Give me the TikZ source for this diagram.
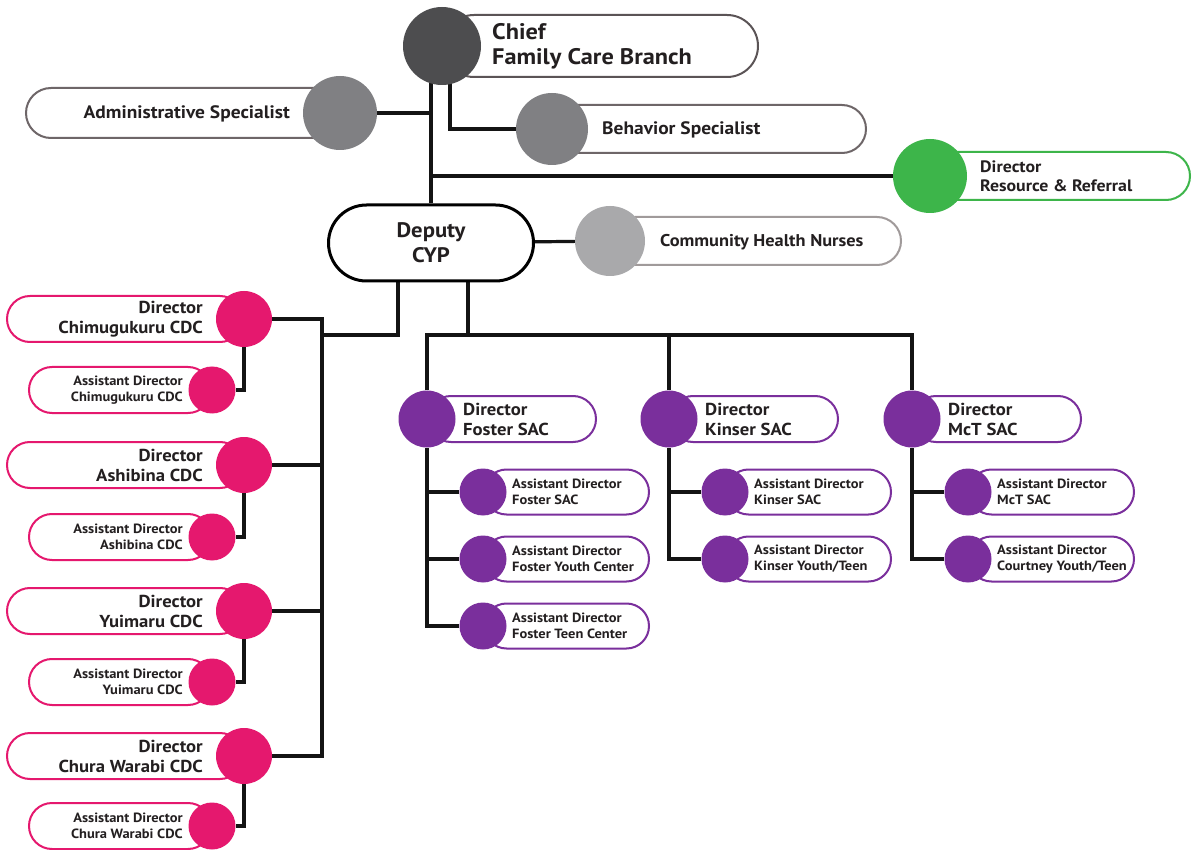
\documentclass[tikz,border=0pt]{standalone}
\usepackage{fontspec}
\setmainfont{PT Sans}[FakeStretch=1.08]
\usetikzlibrary{shapes.misc,calc}
\pgfdeclarelayer{bg}
\pgfdeclarelayer{paper}
\pgfsetlayers{paper,bg,main}
\definecolor{chiefc}{HTML}{4D4D4F}
\definecolor{chiefo}{HTML}{5B5456}
\definecolor{grayc}{HTML}{808083}
\definecolor{grayo}{HTML}{6E6668}
\definecolor{lgrayc}{HTML}{A9A9AB}
\definecolor{lgrayo}{HTML}{A09A9A}
\definecolor{greenc}{HTML}{3DB54A}
\definecolor{pinkc}{HTML}{E5186E}
\definecolor{purc}{HTML}{7A2F9C}
\definecolor{txt}{HTML}{231F20}
\begin{document}
\begin{tikzpicture}[x=1pt,y=-1pt,
  pill/.style={rounded rectangle, draw, line width=2pt, fill=white, inner sep=0pt},
  dot/.style={circle, inner sep=0pt, draw=none},
  conn/.style={line width=3.2pt, draw=black!92},
  lbl/.style={text=txt, inner sep=0pt},
  big/.style={lbl, font=\bfseries\fontsize{22.5}{25}\selectfont},
  mid/.style={lbl, font=\bfseries\fontsize{17.3}{20}\selectfont},
  sml/.style={lbl, font=\bfseries\fontsize{13.4}{16}\selectfont},
]
\useasboundingbox (0,0) rectangle (1200,850);
\begin{pgfonlayer}{paper}
\fill[white] (0,0) rectangle (1200,850);
\end{pgfonlayer}

% ---------- top ----------
\node[pill, draw=chiefo, minimum width=315, minimum height=62, anchor=west] (chiefp) at (442,46) {};
\node[dot, fill=chiefc, minimum size=78] (chief) at (442,46) {};
\node[big, anchor=west, align=left] (chieft) at (492,46) {Chief\\Family Care Branch};

\node[pill, draw=grayo, minimum width=313, minimum height=50, anchor=east] (admp) at (340,113) {};
\node[dot, fill=grayc, minimum size=74] (adm) at (340,113) {};
\node[lbl, font=\bfseries\fontsize{18}{20}\selectfont, anchor=east] (admt) at (290,114) {Administrative Specialist};

\node[pill, draw=grayo, minimum width=313, minimum height=48, anchor=west] (behp) at (552,129) {};
\node[dot, fill=grayc, minimum size=72] (beh) at (552,129) {};
\node[lbl, font=\bfseries\fontsize{18}{20}\selectfont, anchor=west] (beht) at (602,130) {Behavior Specialist};

\node[pill, draw=greenc, minimum width=259, minimum height=48, anchor=west] (grp) at (930,176) {};
\node[dot, fill=greenc, minimum size=74] (gr) at (930,176) {};
\node[lbl, font=\bfseries\fontsize{16.5}{19}\selectfont, anchor=west, align=left] (grt) at (980,176) {Director\\Resource \& Referral};

\node[pill, draw=black, line width=3pt, minimum width=205, minimum height=76] (dep) at (431,243) {};
\node[lbl, font=\bfseries\fontsize{21}{25}\selectfont, align=center] (dept) at (431,243) {Deputy\\CYP};

\node[pill, draw=lgrayo, minimum width=290, minimum height=48, anchor=west] (chnp) at (610,241) {};
\node[dot, fill=lgrayc, minimum size=70] (chn) at (610,241) {};
\node[lbl, font=\bfseries\fontsize{17}{20}\selectfont, anchor=west] (chnt) at (660,242) {Community Health Nurses};

% ---------- pink CDC ----------
\foreach \i/\y/\ay/\name in {1/319/390/Chimugukuru CDC, 2/465/537/Ashibina CDC, 3/611/682/Yuimaru CDC, 4/756/826/Chura Warabi CDC}{
  \node[pill, draw=pinkc, minimum width=236, minimum height=46, anchor=east] (pdp\i) at (244,\y) {};
  \node[dot, fill=pinkc, minimum size=56] (pd\i) at (244,\y) {};
  \node[mid, anchor=east, align=right] (pdt\i) at (203,\y) {Director\\\name};
  \node[pill, draw=pinkc, minimum width=182, minimum height=46, anchor=east] (pap\i) at (212,\ay) {};
  \node[dot, fill=pinkc, minimum size=47] (pa\i) at (212,\ay) {};
  \node[sml, anchor=east, align=right] (pat\i) at (183,\ay) {Assistant Director\\\name};
}

% ---------- purple SAC ----------
\foreach \k/\cx/\name in {f/427/Foster, k/669/Kinser, m/912/McT}{
  \node[pill, draw=purc, minimum width=168, minimum height=46, anchor=west] (p\k p) at (\cx,419) {};
  \node[dot, fill=purc, minimum size=57] (p\k) at (\cx,419) {};
  \node[mid, anchor=west, align=left] (p\k t) at ($(\cx,419)+(36,0)$) {Director\\\name\ SAC};
}
\foreach \k/\cx/\j/\y/\name in {f/427/1/492/{Foster SAC}, f/427/2/559/{Foster Youth Center}, f/427/3/626/{Foster Teen Center},
                               k/669/1/492/{Kinser SAC}, k/669/2/559/{Kinser Youth/Teen},
                               m/912/1/492/{McT SAC}, m/912/2/559/{Courtney Youth/Teen}}{
  \node[pill, draw=purc, minimum width=165, minimum height=45, anchor=west] (p\k a\j p) at ($(\cx,\y)+(56,0)$) {};
  \node[dot, fill=purc, minimum size=47] (p\k a\j) at ($(\cx,\y)+(56,0)$) {};
  \node[sml, anchor=west, align=left] (p\k a\j t) at ($(\cx,\y)+(85,0)$) {Assistant Director\\\name};
}

% ---------- connectors ----------
\begin{pgfonlayer}{bg}
  \draw[conn] (chief.center -| dep.north) -- (dep.north);
  \draw[conn] (adm) -- (adm -| dep.north);
  \draw[conn] ($(chief.center)+(8,0)$) |- (beh);
  \draw[conn] (gr -| dep.north) -- (gr);
  \draw[conn] (dep) -- (chn);
  \coordinate (spine) at (322,335);
  \coordinate (bus) at (468,335);
  \draw[conn] ($(dep.south)+(-33,0)$) |- (spine);
  \draw[conn] (pd1) -| (spine) |- (pd4);
  \draw[conn] (pd2) -- (pd2 -| spine);
  \draw[conn] (pd3) -- (pd3 -| spine);
  \foreach \i in {1,2,3,4}{ \draw[conn] (pd\i.center) |- (pa\i); }
  \draw[conn] (dep.south -| bus) -- (bus);
  \draw[conn] (pf) |- (bus) -| (pm);
  \draw[conn] (pk) -- (pk |- bus);
  \draw[conn] (pf) |- (pfa3);
  \draw[conn] (pfa1 -| pf) -- (pfa1);
  \draw[conn] (pfa2 -| pf) -- (pfa2);
  \draw[conn] (pk) |- (pka2);
  \draw[conn] (pka1 -| pk) -- (pka1);
  \draw[conn] (pm) |- (pma2);
  \draw[conn] (pma1 -| pm) -- (pma1);
\end{pgfonlayer}
\end{tikzpicture}
\end{document}
